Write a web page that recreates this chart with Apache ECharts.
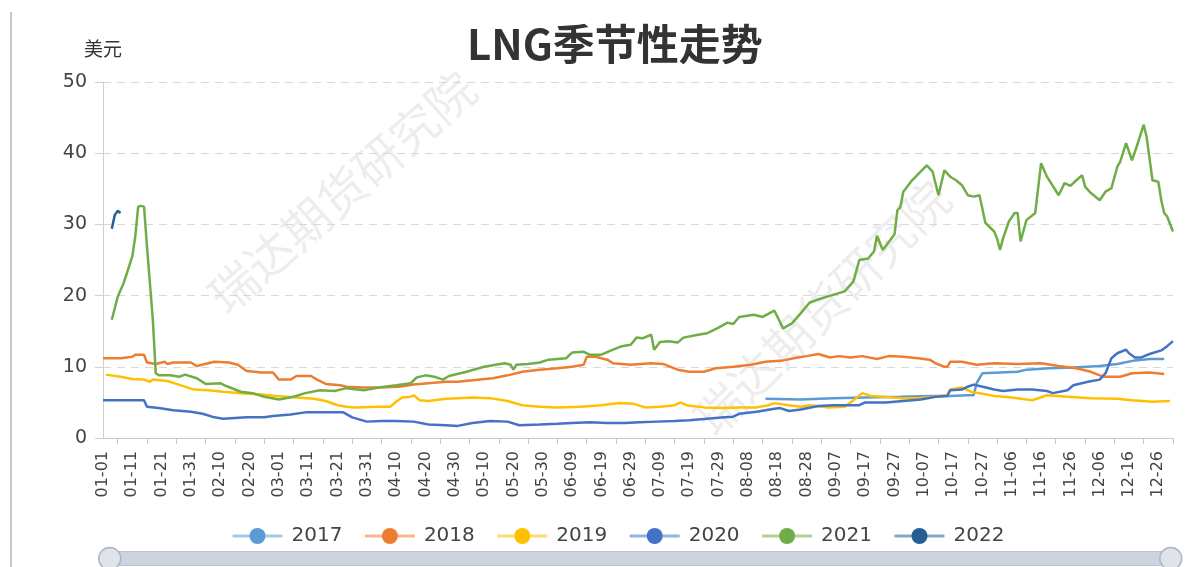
<!DOCTYPE html>
<html>
<head>
<meta charset="utf-8">
<title>LNG季节性走势</title>
<script src="https://cdn.jsdelivr.net/npm/echarts@6/dist/echarts.min.js"></script>
<style>
  html, body { margin: 0; padding: 0; background: #fff; }
  #chart { width: 1185px; height: 567px; }
</style>
</head>
<body>
<div id="chart"></div>
<script>
/* -------------------------------------------------------------------------- */
/*                                LNG 季节性走势                               */
/* -------------------------------------------------------------------------- */

// x axis: every day of a leap year, "MM-DD"
const monthDays = [31, 29, 31, 30, 31, 30, 31, 31, 30, 31, 30, 31];
const pad = (n) => (n < 10 ? "0" + n : "" + n);
const categories = [];
monthDays.forEach((n, m) => {
  for (let d = 1; d <= n; d++) categories.push(pad(m + 1) + "-" + pad(d));
});

const years = ["2017", "2018", "2019", "2020", "2021", "2022"];
const colors = ["#5B9BD5", "#ED7D31", "#FFC000", "#4472C4", "#70AD47", "#255E91"];

// [day index (0 = 01-01), 美元]
const data2017 = [
  [226, 5.5], [238, 5.4], [249, 5.6], [260, 5.7], [272, 5.8], [283, 5.9], [289, 5.9],
  [295, 6.0], [297, 6.0], [298, 7.7], [300, 9.1], [306, 9.2], [312, 9.3], [315, 9.6],
  [323, 9.8], [331, 9.9], [340, 10.1], [346, 10.4], [352, 10.9], [357, 11.1], [362, 11.1],
];

const data2018 = [
  [0, 11.2], [6, 11.2], [10, 11.4], [11, 11.7], [14, 11.7], [15, 10.6], [18, 10.4],
  [21, 10.7], [22, 10.4], [24, 10.6], [30, 10.6], [32, 10.1], [38, 10.7], [43, 10.6],
  [46, 10.3], [49, 9.4], [54, 9.2], [58, 9.2], [60, 8.2], [64, 8.2], [66, 8.7],
  [71, 8.7], [73, 8.2], [76, 7.6], [81, 7.4], [83, 7.2], [89, 7.1], [94, 7.1],
  [101, 7.2], [106, 7.5], [111, 7.7], [117, 7.9], [121, 7.9], [126, 8.1], [133, 8.4],
  [138, 8.8], [143, 9.3], [149, 9.6], [155, 9.8], [160, 10.0], [164, 10.3], [165, 11.4],
  [168, 11.4], [172, 11.0], [174, 10.5], [180, 10.3], [187, 10.5], [191, 10.4], [196, 9.6],
  [200, 9.3], [205, 9.3], [209, 9.8], [215, 10.0], [221, 10.3], [226, 10.7], [232, 10.9],
  [237, 11.3], [240, 11.5], [244, 11.8], [248, 11.3], [251, 11.5], [255, 11.3], [259, 11.5],
  [264, 11.1], [268, 11.5], [273, 11.4], [278, 11.2], [282, 11.0], [284, 10.5], [287, 10.0],
  [288, 10.0], [289, 10.7], [293, 10.7], [298, 10.3], [304, 10.5], [312, 10.4], [320, 10.5],
  [326, 10.1], [332, 9.8], [337, 9.3], [340, 8.8], [342, 8.6], [347, 8.6], [351, 9.1],
  [357, 9.2], [362, 9.0],
];

const data2019 = [
  [1, 8.9], [6, 8.6], [10, 8.3], [14, 8.2], [16, 7.9], [17, 8.2], [22, 8.0], [25, 7.6],
  [31, 6.8], [36, 6.7], [41, 6.5], [47, 6.3], [54, 6.1], [59, 5.9], [66, 5.7], [72, 5.5],
  [76, 5.2], [80, 4.6], [83, 4.4], [86, 4.3], [94, 4.4], [98, 4.4], [100, 5.1], [102, 5.7],
  [105, 5.8], [106, 6.0], [108, 5.3], [111, 5.2], [117, 5.5], [121, 5.6], [126, 5.7],
  [132, 5.6], [138, 5.2], [143, 4.6], [149, 4.4], [155, 4.3], [163, 4.4], [170, 4.6],
  [176, 4.9], [181, 4.8], [185, 4.3], [190, 4.4], [195, 4.6], [197, 5.0], [199, 4.6],
  [205, 4.3], [212, 4.2], [217, 4.3], [223, 4.3], [227, 4.6], [229, 4.9], [234, 4.6],
  [238, 4.4], [241, 4.6], [247, 4.3], [253, 4.4], [256, 5.3], [259, 6.3], [262, 5.9],
  [266, 5.8], [272, 5.6], [278, 5.6], [283, 5.8], [288, 6.0], [289, 6.8], [293, 7.1],
  [296, 6.5], [299, 6.3], [304, 5.9], [310, 5.7], [317, 5.3], [322, 6.0], [329, 5.8],
  [337, 5.6], [346, 5.5], [351, 5.3], [358, 5.1], [364, 5.2],
];

const data2020 = [
  [0, 5.3], [6, 5.3], [14, 5.3], [15, 4.4], [19, 4.2], [24, 3.9], [30, 3.7], [34, 3.4],
  [38, 2.9], [41, 2.7], [49, 2.9], [55, 2.9], [58, 3.1], [64, 3.3], [69, 3.6], [74, 3.6],
  [82, 3.6], [85, 2.9], [90, 2.3], [95, 2.4], [100, 2.4], [106, 2.3], [111, 1.9], [117, 1.8],
  [121, 1.7], [126, 2.1], [132, 2.4], [138, 2.3], [142, 1.8], [149, 1.9], [155, 2.0],
  [160, 2.1], [166, 2.2], [172, 2.1], [178, 2.1], [183, 2.2], [189, 2.3], [195, 2.4],
  [200, 2.5], [206, 2.7], [212, 2.9], [215, 3.0], [217, 3.4], [223, 3.7], [229, 4.1],
  [231, 4.2], [234, 3.8], [238, 4.0], [244, 4.5], [249, 4.6], [258, 4.6], [260, 5.0],
  [267, 5.0], [273, 5.2], [279, 5.4], [284, 5.8], [288, 5.9], [289, 6.7], [293, 6.8],
  [295, 7.2], [297, 7.5], [299, 7.3], [304, 6.8], [307, 6.6], [312, 6.8], [317, 6.8],
  [322, 6.6], [324, 6.3], [329, 6.7], [331, 7.4], [336, 7.9], [340, 8.2], [342, 9.1],
  [344, 11.2], [346, 11.9], [349, 12.4], [350, 11.9], [352, 11.3], [354, 11.3], [357, 11.8],
  [361, 12.3], [363, 12.9], [365, 13.6],
];

const data2021 = [
  [3, 16.6], [5, 19.8], [6, 20.8], [7, 21.7], [10, 25.5], [11, 28.3], [12, 32.5], [13, 32.6],
  [14, 32.5], [15, 26.9], [17, 16.6], [18, 9.1], [19, 8.8], [23, 8.8], [26, 8.6], [28, 8.9],
  [32, 8.4], [35, 7.6], [40, 7.7], [42, 7.3], [47, 6.5], [51, 6.3], [55, 5.8], [60, 5.4],
  [65, 5.8], [69, 6.3], [74, 6.7], [79, 6.6], [83, 7.0], [89, 6.7], [94, 7.1], [100, 7.4],
  [105, 7.7], [107, 8.5], [110, 8.8], [113, 8.6], [116, 8.2], [118, 8.7], [124, 9.3],
  [130, 10.0], [137, 10.5], [139, 10.3], [140, 9.6], [141, 10.3], [145, 10.4], [149, 10.6],
  [152, 11.0], [158, 11.2], [160, 12.0], [164, 12.1], [166, 11.7], [170, 11.7], [174, 12.4],
  [177, 12.9], [180, 13.1], [182, 14.1], [184, 14.0], [187, 14.5], [188, 12.4], [190, 13.5],
  [193, 13.6], [196, 13.4], [198, 14.1], [203, 14.5], [206, 14.7], [210, 15.5], [213, 16.2],
  [215, 16.0], [217, 17.0], [222, 17.3], [225, 17.0], [229, 17.9], [232, 15.4], [235, 16.1],
  [238, 17.5], [241, 19.0], [245, 19.6], [249, 20.1], [253, 20.6], [256, 22.0], [258, 25.0],
  [261, 25.2], [263, 26.2], [264, 28.4], [266, 26.4], [270, 28.6], [271, 32.0], [272, 32.4],
  [273, 34.6], [276, 36.2], [281, 38.3], [283, 37.4], [285, 34.1], [287, 37.6], [289, 36.7],
  [291, 36.2], [293, 35.5], [295, 34.1], [297, 33.9], [299, 34.1], [301, 30.2], [304, 29.0],
  [305, 28.0], [306, 26.4], [307, 28.0], [309, 30.4], [311, 31.6], [312, 31.6], [313, 27.6],
  [315, 30.6], [318, 31.6], [320, 38.6], [322, 36.7], [326, 34.1], [328, 35.8], [330, 35.4],
  [332, 36.2], [334, 36.9], [335, 35.3], [337, 34.4], [340, 33.4], [342, 34.6], [344, 35.1],
  [346, 38.1], [347, 38.8], [349, 41.4], [351, 39.0], [353, 41.4], [355, 44.0], [356, 42.3],
  [358, 36.2], [360, 36.0], [361, 33.4], [362, 31.6], [363, 31.1], [365, 29.0],
];

const data2022 = [[3, 29.4], [4, 31.3], [5, 31.9], [6, 31.6]];

const yearData = [data2017, data2018, data2019, data2020, data2021, data2022];

const chart = echarts.init(document.getElementById("chart"));

const FONT = '"DejaVu Sans", "Noto Sans CJK SC", sans-serif';
const CJK = '"Noto Sans CJK SC", sans-serif';

const watermark = (x, y, angle) => ({
  type: "text",
  x: x,
  y: y,
  rotation: angle,
  z: 0,
  silent: true,
  style: {
    text: "瑞达期货研究院",
    fontSize: 48,
    fontFamily: CJK,
    fill: "rgba(0, 0, 0, 0.07)",
    align: "center",
    verticalAlign: "middle",
  },
});

chart.setOption({
  animation: false,
  color: colors,
  textStyle: { fontFamily: FONT },
  title: {
    text: "LNG季节性走势",
    left: 462,
    top: 18,
    textStyle: { fontSize: 42, fontWeight: "bold", color: "#333", fontFamily: CJK },
  },
  legend: {
    data: years,
    left: 226,
    top: 521,
    itemWidth: 50,
    itemHeight: 20,
    itemGap: 21,
    lineStyle: { opacity: 0.55, width: 3 },
    textStyle: { fontSize: 20, color: "#444", padding: [0, 0, 0, 4] },
  },
  grid: { left: 103, right: 12, top: 82, bottom: 129 },
  xAxis: {
    type: "category",
    boundaryGap: false,
    data: categories,
    axisLine: { lineStyle: { color: "#c8c8c8" } },
    axisTick: {
      interval: (i) => i % 10 === 5 || i === 365,
      length: 6,
      lineStyle: { color: "#c8c8c8" },
    },
    axisLabel: { interval: 9, rotate: 90, margin: 13, fontSize: 16, color: "#444" },
  },
  yAxis: {
    type: "value",
    name: "美元",
    nameGap: 24,
    nameTextStyle: { fontSize: 19, color: "#333", fontFamily: CJK },
    min: 0,
    max: 50,
    interval: 10,
    axisLine: { show: true, lineStyle: { color: "#d0d0d0" } },
    axisTick: { show: true, length: 8, lineStyle: { color: "#d0d0d0" } },
    axisLabel: { fontSize: 19, color: "#444", margin: 16 },
    splitLine: { lineStyle: { type: [8, 6], color: "#d8d8d8" } },
  },
  dataZoom: [
    {
      type: "slider",
      xAxisIndex: 0,
      start: 0,
      end: 100,
      left: 107,
      right: 15,
      top: 551,
      height: 15,
      showDetail: false,
      showDataShadow: false,
      brushSelect: false,
      moveHandleSize: 0,
      backgroundColor: "#d3d9e3",
      borderColor: "#bcc4d0",
      fillerColor: "rgba(200, 208, 220, 0.6)",
      handleIcon: "circle",
      handleSize: 22,
      handleStyle: { color: "#dfe3ea", borderColor: "#aeb6c4", borderWidth: 1.5 },
    },
  ],
  graphic: [
    {
      type: "line",
      silent: true,
      shape: { x1: 11, y1: 12, x2: 11, y2: 567 },
      style: { stroke: "#c8c8c8", lineWidth: 2 },
    },
    watermark(342, 192, 0.72),
    watermark(822, 308, 0.78),
  ],
  series: years.map((y, k) => ({
    name: y,
    type: "line",
    data: yearData[k],
    symbol: "circle",
    symbolSize: 8,
    showSymbol: false,
    lineStyle: { width: 2.5 },
  })),
});
</script>
</body>
</html>
